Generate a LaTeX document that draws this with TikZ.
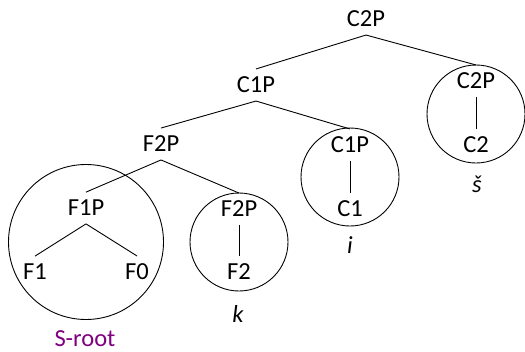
\documentclass[tikz,border=0pt]{standalone}
\usepackage{fontspec}
\setmainfont{Carlito}
\usepackage{tikz}
\definecolor{rootpurple}{RGB}{128,0,128}

\begin{document}
\begin{tikzpicture}[x=1pt, y=-1pt, font=\fontsize{24.5}{29}\selectfont,
  lbl/.style={inner sep=0pt, outer xsep=0pt, outer ysep=8pt},
  ring/.style={draw, circle, line width=0.9pt, inner sep=0pt, minimum size=#1},
  edge/.style={line width=0.9pt},
  tag/.style={inner sep=0pt}]
  \useasboundingbox (0,0) rectangle (525,351);
  % spine of the tree
  \node[lbl] (c2p) at (366,19) {C2P};
  \node[lbl] (c1p) at (256,85) {C1P};
  \node[lbl] (f2p) at (161,144) {F2P};
  % circled parts
  \node[ring=98pt] (ringS) at (476,114) {};
  \node[ring=98pt] (ringI) at (350,177) {};
  \node[ring=98pt] (ringK) at (239,242) {};
  \node[ring=155pt] (ringRoot) at (86,242) {};
  \node[lbl] (c2pin) at (476,81) {C2P};
  \node[lbl] (c2) at (476,145) {C2};
  \node[lbl] (c1pin) at (350,145) {C1P};
  \node[lbl] (c1) at (350,209) {C1};
  \node[lbl] (f2pin) at (239,209) {F2P};
  \node[lbl] (f2) at (239,272) {F2};
  \node[lbl] (f1p) at (86,208) {F1P};
  \node[lbl] (f1) at (35,272) {F1};
  \node[lbl] (f0) at (137,272) {F0};
  % names under the circles
  \node[tag] (nameS) at (477,184) {\itshape š};
  \node[tag] (nameI) at (350,245) {\itshape i};
  \node[tag] (nameK) at (238,314) {\itshape k};
  \node[tag, text=rootpurple] (nameRoot) at (85,339) {S-root};
  % edges
  \draw[edge] (c2p.south) -- (c1p.north);
  \draw[edge] (c2p.south) -- (c2pin.north);
  \draw[edge] (c1p.south) -- (f2p.north);
  \draw[edge] (c1p.south) -- (c1pin.north);
  \draw[edge] (f2p.south) -- (f1p.north);
  \draw[edge] (f2p.south) -- (f2pin.north);
  \draw[edge] (c2pin.south) -- (c2.north);
  \draw[edge] (c1pin.south) -- (c1.north);
  \draw[edge] (f2pin.south) -- (f2.north);
  \draw[edge] (f1p.south) -- (f1.north);
  \draw[edge] (f1p.south) -- (f0.north);
\end{tikzpicture}
\end{document}
